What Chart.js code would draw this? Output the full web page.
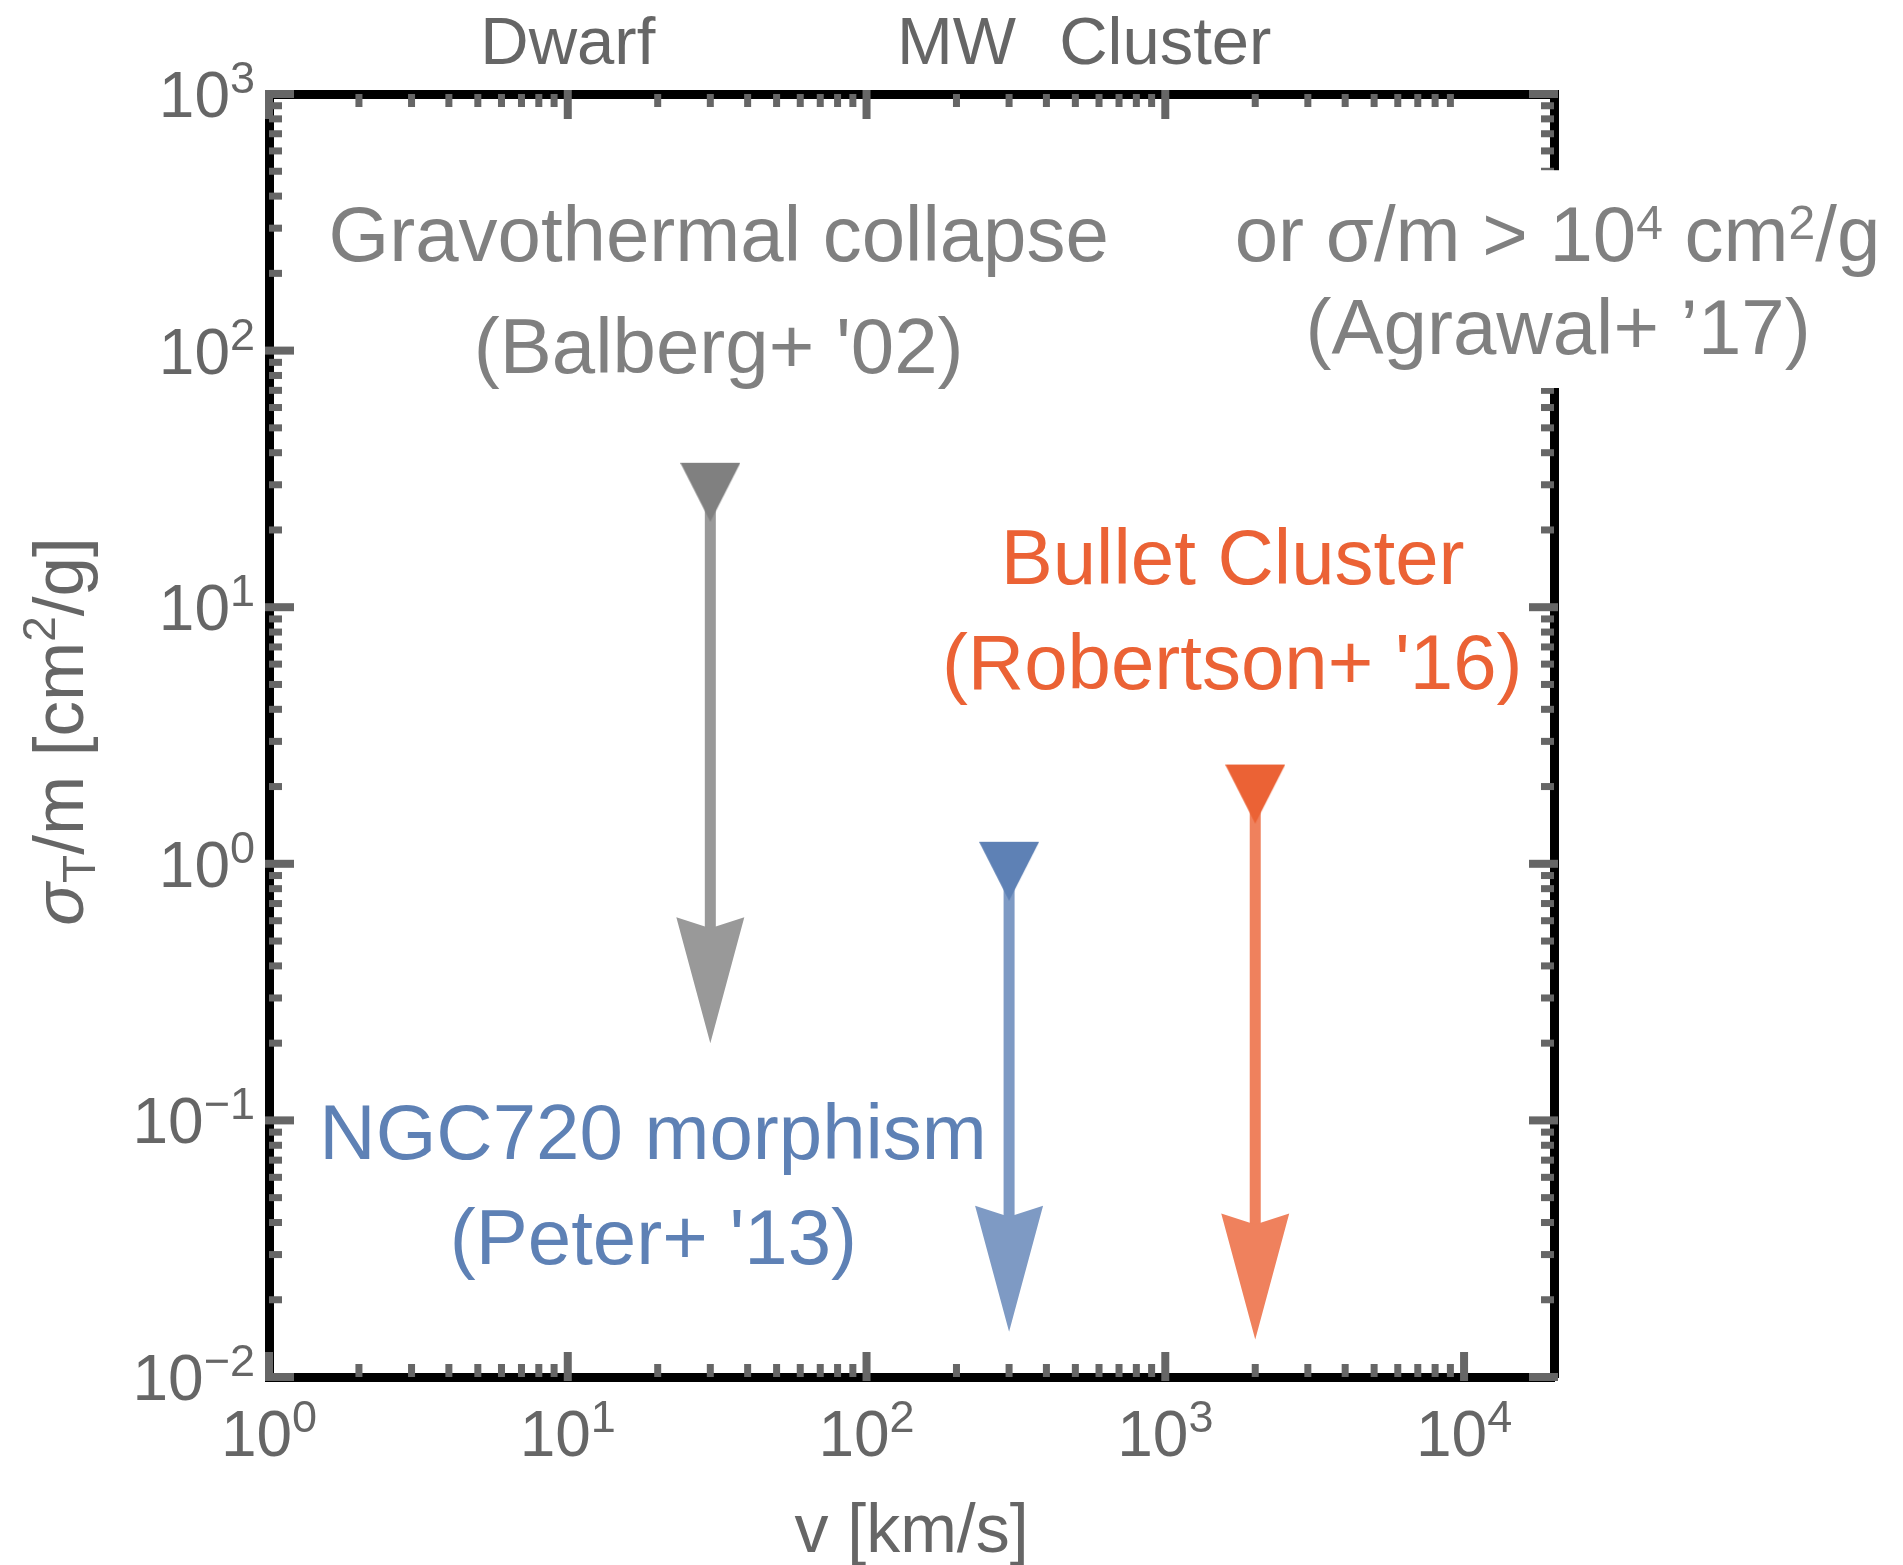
<!DOCTYPE html>
<html>
<head>
<meta charset="utf-8">
<script src="https://cdn.jsdelivr.net/npm/chart.js@4.4.1/dist/chart.umd.min.js"></script>
<style>
  html, body { margin: 0; padding: 0; background: #fff; }
  #wrap { width: 1903px; height: 1565px; }
</style>
</head>
<body>
<div id="wrap"><canvas id="sigmaChart" width="1903" height="1565"></canvas></div>
<script>
// constraints: velocity scale (km/s), upper bound on sigma/m (cm^2/g), end of the arrow
const constraintNames = ['Gravothermal collapse', 'NGC720 morphism', 'Bullet Cluster'];
const velocity = [30, 300, 2000];
const sigmaBound = [30, 1, 2];
const arrowEnd = [0.2, 0.015, 0.014];
const markerColors = ['#808080', '#5E81B5', '#EB6235'];
const arrowColors = ['#999999', '#7E9AC4', '#EF815D'];

// axes
const xRange = [1, 20000];
const yRange = [0.01, 1000];
const xLabelExp = [0, 1, 2, 3, 4];
const yLabelExp = [-2, -1, 0, 1, 2, 3];
const topLabels = ['Dwarf', 'MW', 'Cluster'];
const topLabelAt = [10, 200, 1000];

const FONT = '"Liberation Sans", Arial, Helvetica, sans-serif';
const TICK_GRAY = '#666666';
const NOTE_GRAY = '#808080';

// text blocks: anchor is [v, sigma] of the centre of each line's baseline
const notes = [
  { lines: [[{ text: 'Gravothermal collapse' }], [{ text: "(Balberg+ '02)" }]],
    at: [[32, 223], [32, 81.8]], color: NOTE_GRAY },
  { lines: [[{ text: 'or \u03c3/m > 10' }, { text: '4', small: true }, { text: ' cm' }, { text: '2', small: true }, { text: '/g' }],
            [{ text: '(Agrawal+ \u201917)' }]],
    at: [[20550, 223], [20650, 97]], color: NOTE_GRAY, blank: true },
  { lines: [[{ text: 'Bullet Cluster' }], [{ text: "(Robertson+ '16)" }]],
    at: [[1680, 12.3], [1675, 4.8]], color: '#EB6235' },
  { lines: [[{ text: 'NGC720 morphism' }], [{ text: "(Peter+ '13)" }]],
    at: [[19.3, 0.0708], [19.35, 0.0276]], color: '#5E81B5' }
];

function font(size, italic) {
  return (italic ? 'italic ' : '') + size + 'px ' + FONT;
}

function partsWidth(ctx, parts) {
  let w = 0;
  parts.forEach(p => { ctx.font = font(p.size, p.italic); w += ctx.measureText(p.text).width; });
  return w;
}

// draw a run of pieces (with raised / lowered bits) on a common baseline
function drawParts(ctx, parts, x, y, align) {
  const w = partsWidth(ctx, parts);
  let cx = align === 'center' ? x - w / 2 : align === 'right' ? x - w : x;
  ctx.textAlign = 'left';
  ctx.textBaseline = 'alphabetic';
  parts.forEach(p => {
    ctx.font = font(p.size, p.italic);
    ctx.fillText(p.text, cx, y - (p.rise || 0));
    cx += ctx.measureText(p.text).width;
  });
  return w;
}

function powerLabel(k) {
  const e = k < 0 ? '\u2212' + (-k) : String(k);
  return [{ text: '10', size: 64 }, { text: e, size: 45, rise: 24 }];
}

function logTicks(lo, hi) {
  const out = [];
  for (let k = lo; k <= hi; k++) {
    out.push({ v: Math.pow(10, k), major: true });
    if (k < hi) for (let m = 2; m <= 9; m++) out.push({ v: m * Math.pow(10, k), major: false });
  }
  return out;
}

// down-pointing triangle marker, centroid at the image centre
function triangleMarker(color) {
  const c = document.createElement('canvas');
  c.width = 60; c.height = 80;
  const g = c.getContext('2d');
  g.fillStyle = color;
  g.beginPath();
  g.moveTo(0, 18);
  g.lineTo(60, 18);
  g.lineTo(30, 77);
  g.closePath();
  g.fill();
  return c;
}

const datasets = velocity.map((v, i) => ({
  label: constraintNames[i],
  data: [{ x: v, y: sigmaBound[i] }, { x: v, y: arrowEnd[i] }],
  pointStyle: [triangleMarker(markerColors[i]), 'circle'],
  pointRadius: [30, 0],
  pointHoverRadius: [30, 0],
  backgroundColor: markerColors[i],
  borderWidth: 0,
  arrowColor: arrowColors[i],
  showLine: false
}));

const frameAxis = (type, position, range) => ({
  type: type,
  position: position,
  min: range[0],
  max: range[1],
  ticks: { display: false },
  grid: { display: false, drawTicks: false },
  border: { display: true, color: '#000000', width: 9 }
});

const frameDecor = {
  id: 'frameDecor',
  beforeDatasetsDraw(chart) {
    const ctx = chart.ctx;
    const headLen = 126, headHalf = 34, notch = 11, shaft = 11;
    chart.data.datasets.forEach((ds, i) => {
      const pts = chart.getDatasetMeta(i).data;
      const x = pts[0].x, y0 = pts[0].y, tip = pts[1].y;
      ctx.save();
      ctx.fillStyle = ds.arrowColor;
      ctx.fillRect(x - shaft / 2, y0, shaft, tip - headLen + notch + 2 - y0);
      ctx.beginPath();
      ctx.moveTo(x, tip);
      ctx.lineTo(x - headHalf, tip - headLen);
      ctx.lineTo(x, tip - headLen + notch);
      ctx.lineTo(x + headHalf, tip - headLen);
      ctx.closePath();
      ctx.fill();
      ctx.restore();
    });
  },
  afterDraw(chart) {
    const ctx = chart.ctx;
    const a = chart.chartArea;
    const sx = chart.scales.x, sy = chart.scales.y;

    // inward ticks on all four sides
    ctx.save();
    ctx.fillStyle = TICK_GRAY;
    const tick = (side, px, major) => {
      const len = major ? 25 : 13, t = major ? 8 : 7, out = major ? 4 : 0;
      if (side === 'bottom') ctx.fillRect(px - t / 2, a.bottom - len, t, len + out);
      if (side === 'top') ctx.fillRect(px - t / 2, a.top - out, t, len + out);
      if (side === 'left') ctx.fillRect(a.left - out, px - t / 2, len + out, t);
      if (side === 'right') ctx.fillRect(a.right - len, px - t / 2, len + out, t);
    };
    logTicks(0, 4).forEach(tk => {
      tick('bottom', sx.getPixelForValue(tk.v), tk.major);
      if (tk.v < 10000) tick('top', sx.getPixelForValue(tk.v), tk.major);
    });
    logTicks(-2, 3).forEach(tk => {
      tick('left', sy.getPixelForValue(tk.v), tk.major);
      tick('right', sy.getPixelForValue(tk.v), tk.major);
    });
    ctx.restore();

    // tick labels
    ctx.save();
    ctx.fillStyle = TICK_GRAY;
    xLabelExp.forEach(k => drawParts(ctx, powerLabel(k), sx.getPixelForValue(Math.pow(10, k)), a.bottom + 79, 'center'));
    yLabelExp.forEach(k => drawParts(ctx, powerLabel(k), a.left - 14, sy.getPixelForValue(Math.pow(10, k)) + 23, 'right'));
    topLabels.forEach((t, i) => drawParts(ctx, [{ text: t, size: 67 }], sx.getPixelForValue(topLabelAt[i]), a.top - 30, 'center'));

    // axis titles
    drawParts(ctx, [{ text: 'v [km/s]', size: 68 }], (a.left + a.right) / 2, a.bottom + 175, 'center');
    ctx.translate(a.left - 186, (a.top + a.bottom) / 2 - 4);
    ctx.rotate(-Math.PI / 2);
    drawParts(ctx, [
      { text: '\u03c3', size: 71, italic: true },
      { text: 'T', size: 46, rise: -12 },
      { text: '/m [cm', size: 71 },
      { text: '2', size: 46, rise: 28 },
      { text: '/g]', size: 71 }
    ], 0, 0, 'center');
    ctx.restore();

    // annotations
    notes.forEach(n => {
      const lines = n.lines.map(l => l.map(p => p.small ? { text: p.text, size: 48, rise: 22 } : { text: p.text, size: 78 }));
      if (n.blank) {
        const top = sy.getPixelForValue(n.at[0][1]) - 91;
        const bottom = sy.getPixelForValue(n.at[1][1]) + 34;
        const w = Math.max(...lines.map(l => partsWidth(ctx, l)));
        const cx = sx.getPixelForValue(n.at[0][0]);
        ctx.fillStyle = '#ffffff';
        ctx.fillRect(cx - w / 2 - 8, top, w + 16, bottom - top);
      }
      ctx.fillStyle = n.color;
      lines.forEach((l, j) => drawParts(ctx, l, sx.getPixelForValue(n.at[j][0]), sy.getPixelForValue(n.at[j][1]), 'center'));
    });
  }
};

new Chart(document.getElementById('sigmaChart'), {
  type: 'scatter',
  data: { datasets: datasets },
  options: {
    responsive: false,
    animation: false,
    devicePixelRatio: 1,
    layout: { padding: { left: 269, top: 94, right: 349, bottom: 188 } },
    scales: {
      x: frameAxis('logarithmic', 'bottom', xRange),
      x2: frameAxis('logarithmic', 'top', xRange),
      y: frameAxis('logarithmic', 'left', yRange),
      y2: frameAxis('logarithmic', 'right', yRange)
    },
    plugins: {
      legend: { display: false },
      tooltip: { enabled: false }
    }
  },
  plugins: [frameDecor]
});
</script>
</body>
</html>
